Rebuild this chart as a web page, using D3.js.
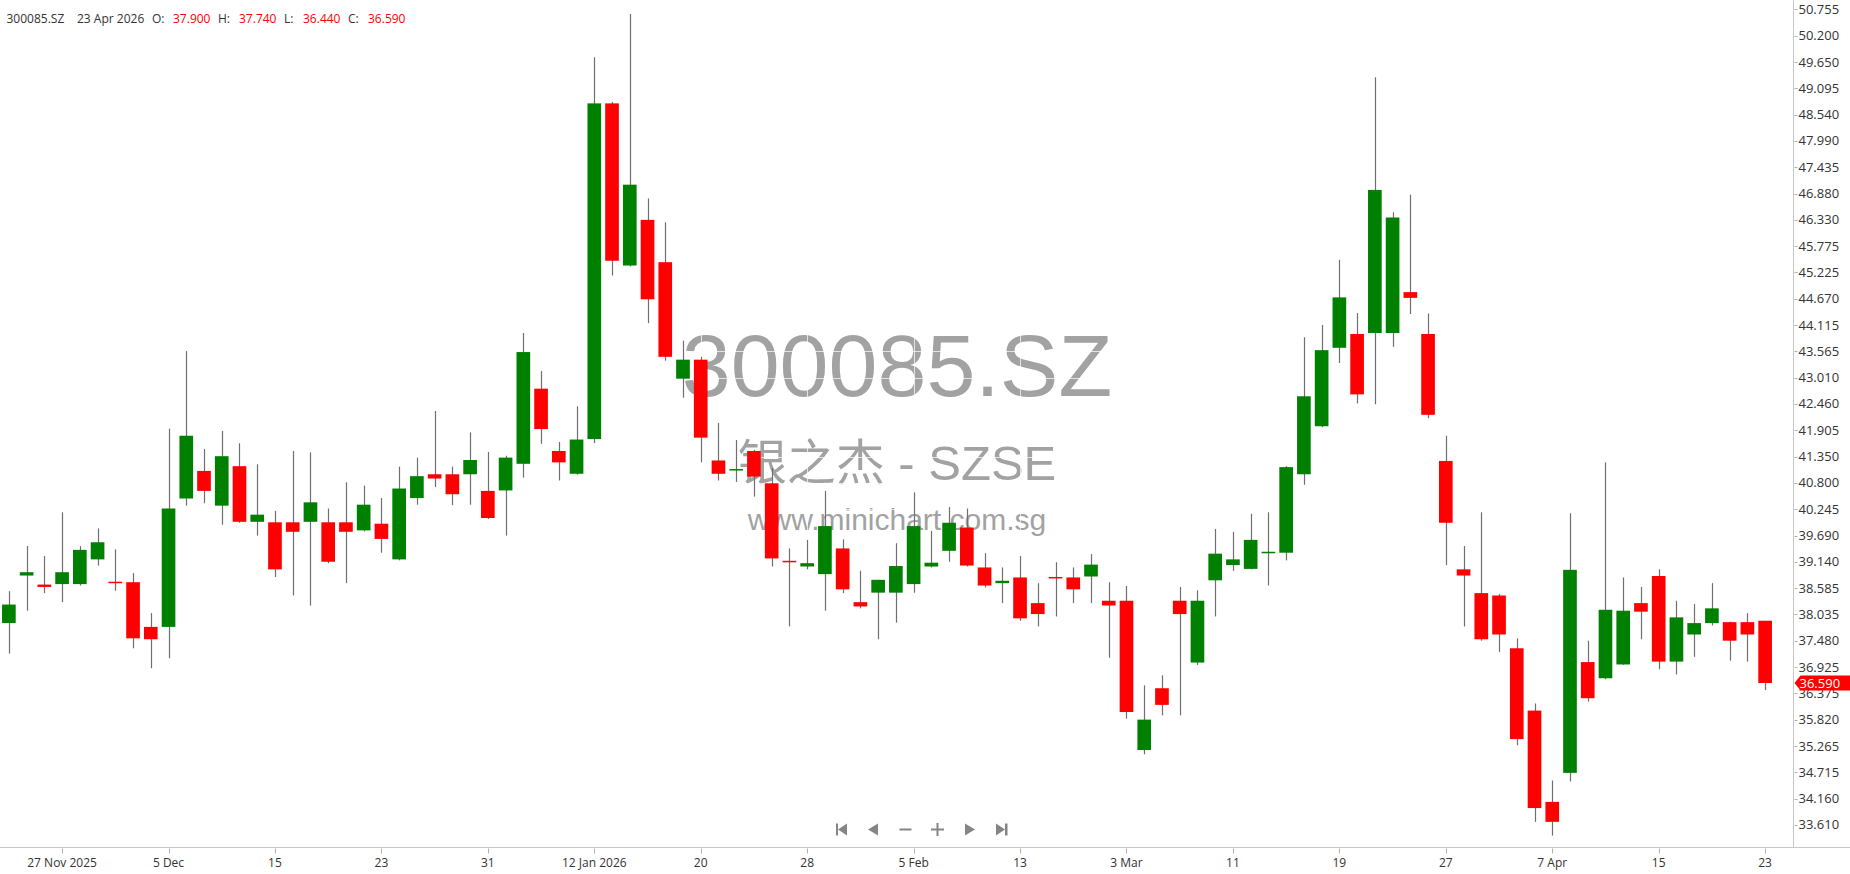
<!DOCTYPE html>
<html><head><meta charset="utf-8">
<script src="https://cdn.jsdelivr.net/npm/d3@7/dist/d3.min.js"></script>
<style>html,body{margin:0;padding:0;background:#fff;overflow:hidden}svg{display:block}</style>
</head><body><svg id="c" width="1850" height="874"></svg>
<script>
const symbol = "300085.SZ";
const companyName = "银之杰 - SZSE";
const site = "www.minichart.com.sg";

const dates = [
"2025-11-24","2025-11-25","2025-11-26","2025-11-27","2025-11-28",
"2025-12-01","2025-12-02","2025-12-03","2025-12-04","2025-12-05",
"2025-12-08","2025-12-09","2025-12-10","2025-12-11","2025-12-12",
"2025-12-15","2025-12-16","2025-12-17","2025-12-18","2025-12-19",
"2025-12-22","2025-12-23","2025-12-24","2025-12-25","2025-12-26",
"2025-12-29","2025-12-30","2025-12-31",
"2026-01-05","2026-01-06","2026-01-07","2026-01-08","2026-01-09",
"2026-01-12","2026-01-13","2026-01-14","2026-01-15","2026-01-16",
"2026-01-19","2026-01-20","2026-01-21","2026-01-22","2026-01-23",
"2026-01-26","2026-01-27","2026-01-28","2026-01-29","2026-01-30",
"2026-02-02","2026-02-03","2026-02-04","2026-02-05","2026-02-06",
"2026-02-09","2026-02-10","2026-02-11","2026-02-12","2026-02-13",
"2026-02-24","2026-02-25","2026-02-26","2026-02-27",
"2026-03-02","2026-03-03","2026-03-04","2026-03-05","2026-03-06",
"2026-03-09","2026-03-10","2026-03-11","2026-03-12","2026-03-13",
"2026-03-16","2026-03-17","2026-03-18","2026-03-19","2026-03-20",
"2026-03-23","2026-03-24","2026-03-25","2026-03-26","2026-03-27",
"2026-03-30","2026-03-31","2026-04-01","2026-04-02","2026-04-03",
"2026-04-07","2026-04-08","2026-04-09","2026-04-10",
"2026-04-13","2026-04-14","2026-04-15","2026-04-16","2026-04-17",
"2026-04-20","2026-04-21","2026-04-22","2026-04-23"];

const open = [
37.85,38.85,38.66,38.67,38.67,39.19,38.72,38.71,37.77,37.77,
40.47,41.05,40.32,41.15,39.98,39.97,39.97,39.98,39.97,39.97,
39.80,39.94,39.19,40.48,40.98,40.98,40.98,40.63,40.64,41.20,
42.78,41.47,40.99,41.72,48.78,45.37,46.33,45.44,42.99,43.39,
41.27,41.06,41.47,40.79,39.16,39.04,38.88,39.42,38.29,38.49,
38.49,38.67,39.04,39.37,39.86,39.02,38.69,38.81,38.27,38.82,
38.81,38.83,38.32,38.32,35.18,36.48,38.32,37.02,38.75,39.07,
38.99,39.32,39.33,40.98,41.99,43.64,43.93,43.95,43.95,44.81,
43.93,41.26,38.98,38.48,38.43,37.32,36.01,34.09,34.70,37.03,
36.69,36.98,38.27,38.84,37.04,37.61,37.85,37.87,37.87,37.90];

const high = [
38.52,39.47,39.26,40.18,39.47,39.84,39.40,38.90,38.06,41.94,
43.57,41.51,41.89,41.63,41.19,40.21,41.47,41.44,40.26,40.81,
40.74,40.48,41.14,41.33,42.31,41.14,41.86,41.45,41.37,43.95,
43.15,41.66,42.41,49.75,48.81,50.66,46.78,46.28,43.79,43.45,
42.06,41.70,41.49,41.11,39.42,39.60,40.63,39.61,38.95,38.76,
39.53,40.60,39.79,40.29,40.26,39.32,39.02,39.26,38.69,39.13,
39.02,39.30,38.71,38.63,36.54,36.75,38.61,38.54,39.83,39.77,
40.15,40.18,41.15,43.86,44.12,45.49,44.37,49.33,46.49,46.86,
44.36,41.79,39.47,40.18,38.46,37.53,36.16,34.54,40.16,37.48,
41.23,38.81,38.61,38.98,38.32,38.25,38.69,37.88,38.06,37.74];

const low = [
37.21,38.11,38.48,38.29,38.64,39.06,38.53,37.32,36.90,37.11,
40.32,40.37,39.92,39.96,39.69,38.82,38.43,38.22,39.11,38.69,
39.78,39.33,39.17,40.34,40.71,40.33,40.34,40.04,39.69,40.91,
41.62,40.85,40.97,41.64,45.16,45.35,44.16,43.37,42.59,41.23,
40.85,40.82,40.51,39.04,37.78,38.98,38.11,38.48,38.16,37.51,
37.86,38.49,39.02,39.14,39.04,38.60,38.27,37.90,37.78,37.99,
38.27,38.27,37.12,35.84,35.09,35.91,35.91,36.97,37.99,38.95,
38.98,38.64,39.17,40.76,41.97,43.32,42.47,42.45,43.66,44.35,
42.16,39.07,37.78,37.48,37.24,35.28,33.67,33.38,34.52,36.20,
36.67,36.97,37.51,36.88,36.77,37.14,37.80,37.06,37.04,36.44];

const close = [
38.24,38.92,38.61,38.92,39.39,39.55,38.69,37.53,37.51,40.26,
41.79,40.63,41.36,39.98,40.13,38.98,39.77,40.39,39.14,39.77,
40.34,39.62,40.68,40.94,40.89,40.56,41.28,40.06,41.33,43.55,
41.93,41.23,41.71,48.78,45.47,47.07,44.66,43.45,43.39,41.75,
40.99,41.09,40.93,39.21,39.13,39.11,39.89,38.56,38.20,38.76,
39.05,39.89,39.12,39.96,39.06,38.64,38.74,37.95,38.04,38.79,
38.56,39.08,38.22,35.98,35.82,36.13,38.04,38.32,39.31,39.19,
39.60,39.35,41.13,42.62,43.59,44.70,42.66,46.96,46.38,44.69,
42.23,39.96,38.85,37.51,37.61,35.41,33.96,33.67,38.97,36.27,
38.13,38.11,38.09,37.04,37.97,37.85,38.16,37.48,37.61,36.59];

const yTickLabels = ["50.755","50.200","49.650","49.095","48.540","47.990","47.435","46.880",
"46.330","45.775","45.225","44.670","44.115","43.565","43.010","42.460","41.905","41.350",
"40.800","40.245","39.690","39.140","38.585","38.035","37.480","36.925","36.375","35.820",
"35.265","34.715","34.160","33.610"];

const xTickDates = ["2025-11-27","2025-12-05","2025-12-15","2025-12-23","2025-12-31","2026-01-12",
"2026-01-20","2026-01-28","2026-02-05","2026-02-13","2026-03-03","2026-03-11","2026-03-19",
"2026-03-27","2026-04-07","2026-04-15","2026-04-23"];
const xTickLabels = ["27 Nov 2025","5 Dec","15","23","31","12 Jan 2026","20","28","5 Feb","13",
"3 Mar","11","19","27","7 Apr","15","23"];

// ---- layout ----
const W = 1850, H = 874;
const plotRight = 1793.5, plotBottom = 847.5;
const yDomain = [33.141, 50.954];
const UP = "#008000", DOWN = "#ff0000", WICK = "#6f6f6f";
const AXIS = "#c8c8c8", TXT = "#333333";
const uiFont = "'Open Sans', 'Noto Sans', sans-serif";
const wmFont = "'Liberation Sans', Arial, 'Noto Sans CJK SC', sans-serif";

const data = dates.map((d, i) => ({date: d, o: open[i], h: high[i], l: low[i], c: close[i]}));

const svg = d3.select("#c");
svg.append("rect").attr("width", W).attr("height", H).attr("fill", "#fff");

const x = d3.scaleBand().domain(dates).range([0, 1774]).paddingInner(0.23).paddingOuter(0.115);
const cx = d => x(d) + x.bandwidth() / 2;
const y = d3.scaleLinear().domain(yDomain).range([847, 0]);

// watermark
const wm = svg.append("g").attr("fill", "#a2a2a2").attr("text-anchor", "middle").attr("font-family", wmFont);
wm.append("text").attr("x", 897).attr("y", 396).attr("font-size", 88).text(symbol);
wm.append("text").attr("x", 897).attr("y", 480).attr("font-size", 49).text(companyName);
wm.append("text").attr("x", 897).attr("y", 530).attr("font-size", 30).text(site);

// grid (near-white, only visible over the watermark)
const grid = svg.append("g").attr("stroke", "#ffffff").attr("stroke-opacity", 0.7).attr("stroke-width", 1);
grid.selectAll("line.h").data(yTickLabels).join("line").attr("class", "h")
  .attr("x1", 0).attr("x2", plotRight)
  .attr("y1", d => Math.round(y(+d)) + 0.5).attr("y2", d => Math.round(y(+d)) + 0.5);
grid.selectAll("line.v").data(xTickDates).join("line").attr("class", "v")
  .attr("y1", 0).attr("y2", plotBottom)
  .attr("x1", d => Math.round(cx(d)) + 0.5).attr("x2", d => Math.round(cx(d)) + 0.5);

// candles
const cg = svg.append("g");
cg.selectAll("line.w").data(data).join("line").attr("class", "w")
  .attr("x1", d => Math.round(cx(d.date)) + 0.5).attr("x2", d => Math.round(cx(d.date)) + 0.5)
  .attr("y1", d => y(d.h)).attr("y2", d => y(d.l))
  .attr("stroke", WICK).attr("stroke-width", 1.2);
cg.selectAll("rect.b").data(data).join("rect").attr("class", "b")
  .attr("x", d => x(d.date)).attr("width", x.bandwidth())
  .attr("y", d => y(Math.max(d.o, d.c)))
  .attr("height", d => Math.max(1.5, Math.abs(y(d.o) - y(d.c))))
  .attr("fill", d => d.c >= d.o ? UP : DOWN);

// axes lines
svg.append("line").attr("x1", 0).attr("x2", W).attr("y1", plotBottom).attr("y2", plotBottom)
  .attr("stroke", AXIS);
svg.append("line").attr("x1", plotRight).attr("x2", plotRight).attr("y1", 0).attr("y2", plotBottom)
  .attr("stroke", AXIS);

// y axis
const ya = svg.append("g");
ya.selectAll("line").data(yTickLabels).join("line")
  .attr("x1", plotRight + 1).attr("x2", plotRight + 4)
  .attr("y1", d => Math.round(y(+d)) + 0.5).attr("y2", d => Math.round(y(+d)) + 0.5)
  .attr("stroke", "#b0b0b0");
ya.selectAll("text").data(yTickLabels).join("text")
  .attr("x", plotRight + 5).attr("y", d => y(+d) + 4.5)
  .attr("font-family", uiFont).attr("font-size", 13).attr("fill", TXT).text(d => d);

// x axis
const xa = svg.append("g");
xa.selectAll("line").data(xTickDates).join("line")
  .attr("x1", d => Math.round(cx(d)) + 0.5).attr("x2", d => Math.round(cx(d)) + 0.5)
  .attr("y1", plotBottom + 1).attr("y2", plotBottom + 6).attr("stroke", "#b0b0b0");
xa.selectAll("text").data(xTickDates).join("text")
  .attr("x", d => cx(d)).attr("y", 867).attr("text-anchor", "middle")
  .attr("font-family", uiFont).attr("font-size", 12).attr("fill", TXT)
  .text((d, i) => xTickLabels[i]);

// last price marker
const last = data[data.length - 1];
const ly = y(last.c);
svg.append("path")
  .attr("d", `M${plotRight + 1},${ly} L${plotRight + 7},${ly - 7.5} L${W},${ly - 7.5} L${W},${ly + 7.5} L${plotRight + 7},${ly + 7.5} Z`)
  .attr("fill", DOWN);
svg.append("text").attr("x", plotRight + 6).attr("y", ly + 4.5)
  .attr("font-family", uiFont).attr("font-size", 13).attr("fill", "#fff").text(last.c.toFixed(3));

// header
const fmtDate = d3.timeFormat("%-d %b %Y");
const lastDate = fmtDate(d3.timeParse("%Y-%m-%d")(last.date));
const hdr = svg.append("g").attr("font-family", uiFont).attr("font-size", 12);
const parts = [
  [6.5, symbol, TXT], [77, lastDate, TXT],
  [152, "O:", TXT], [173, last.o.toFixed(3), DOWN],
  [218, "H:", TXT], [239, last.h.toFixed(3), DOWN],
  [284, "L:", TXT], [303, last.l.toFixed(3), DOWN],
  [348, "C:", TXT], [368, last.c.toFixed(3), DOWN]];
parts.forEach(p => hdr.append("text").attr("x", p[0]).attr("y", 22.5).attr("fill", p[2]).text(p[1]));

// navigation buttons
const nav = svg.append("g").attr("fill", "#858585").attr("stroke", "none");
const ny = 829.5;
nav.append("rect").attr("x", 836).attr("y", ny - 6).attr("width", 2).attr("height", 12);
nav.append("path").attr("d", `M838,${ny} L847,${ny - 6} L847,${ny + 6} Z`);
nav.append("path").attr("d", `M868,${ny} L878,${ny - 6} L878,${ny + 6} Z`);
nav.append("rect").attr("x", 899.5).attr("y", ny - 1).attr("width", 12).attr("height", 2);
nav.append("rect").attr("x", 931).attr("y", ny - 1).attr("width", 13).attr("height", 2);
nav.append("rect").attr("x", 936.5).attr("y", ny - 6.5).attr("width", 2).attr("height", 13);
nav.append("path").attr("d", `M975,${ny} L965,${ny - 6} L965,${ny + 6} Z`);
nav.append("path").attr("d", `M1005,${ny} L996,${ny - 6} L996,${ny + 6} Z`);
nav.append("rect").attr("x", 1005).attr("y", ny - 6).attr("width", 2.5).attr("height", 12);
</script></body></html>
